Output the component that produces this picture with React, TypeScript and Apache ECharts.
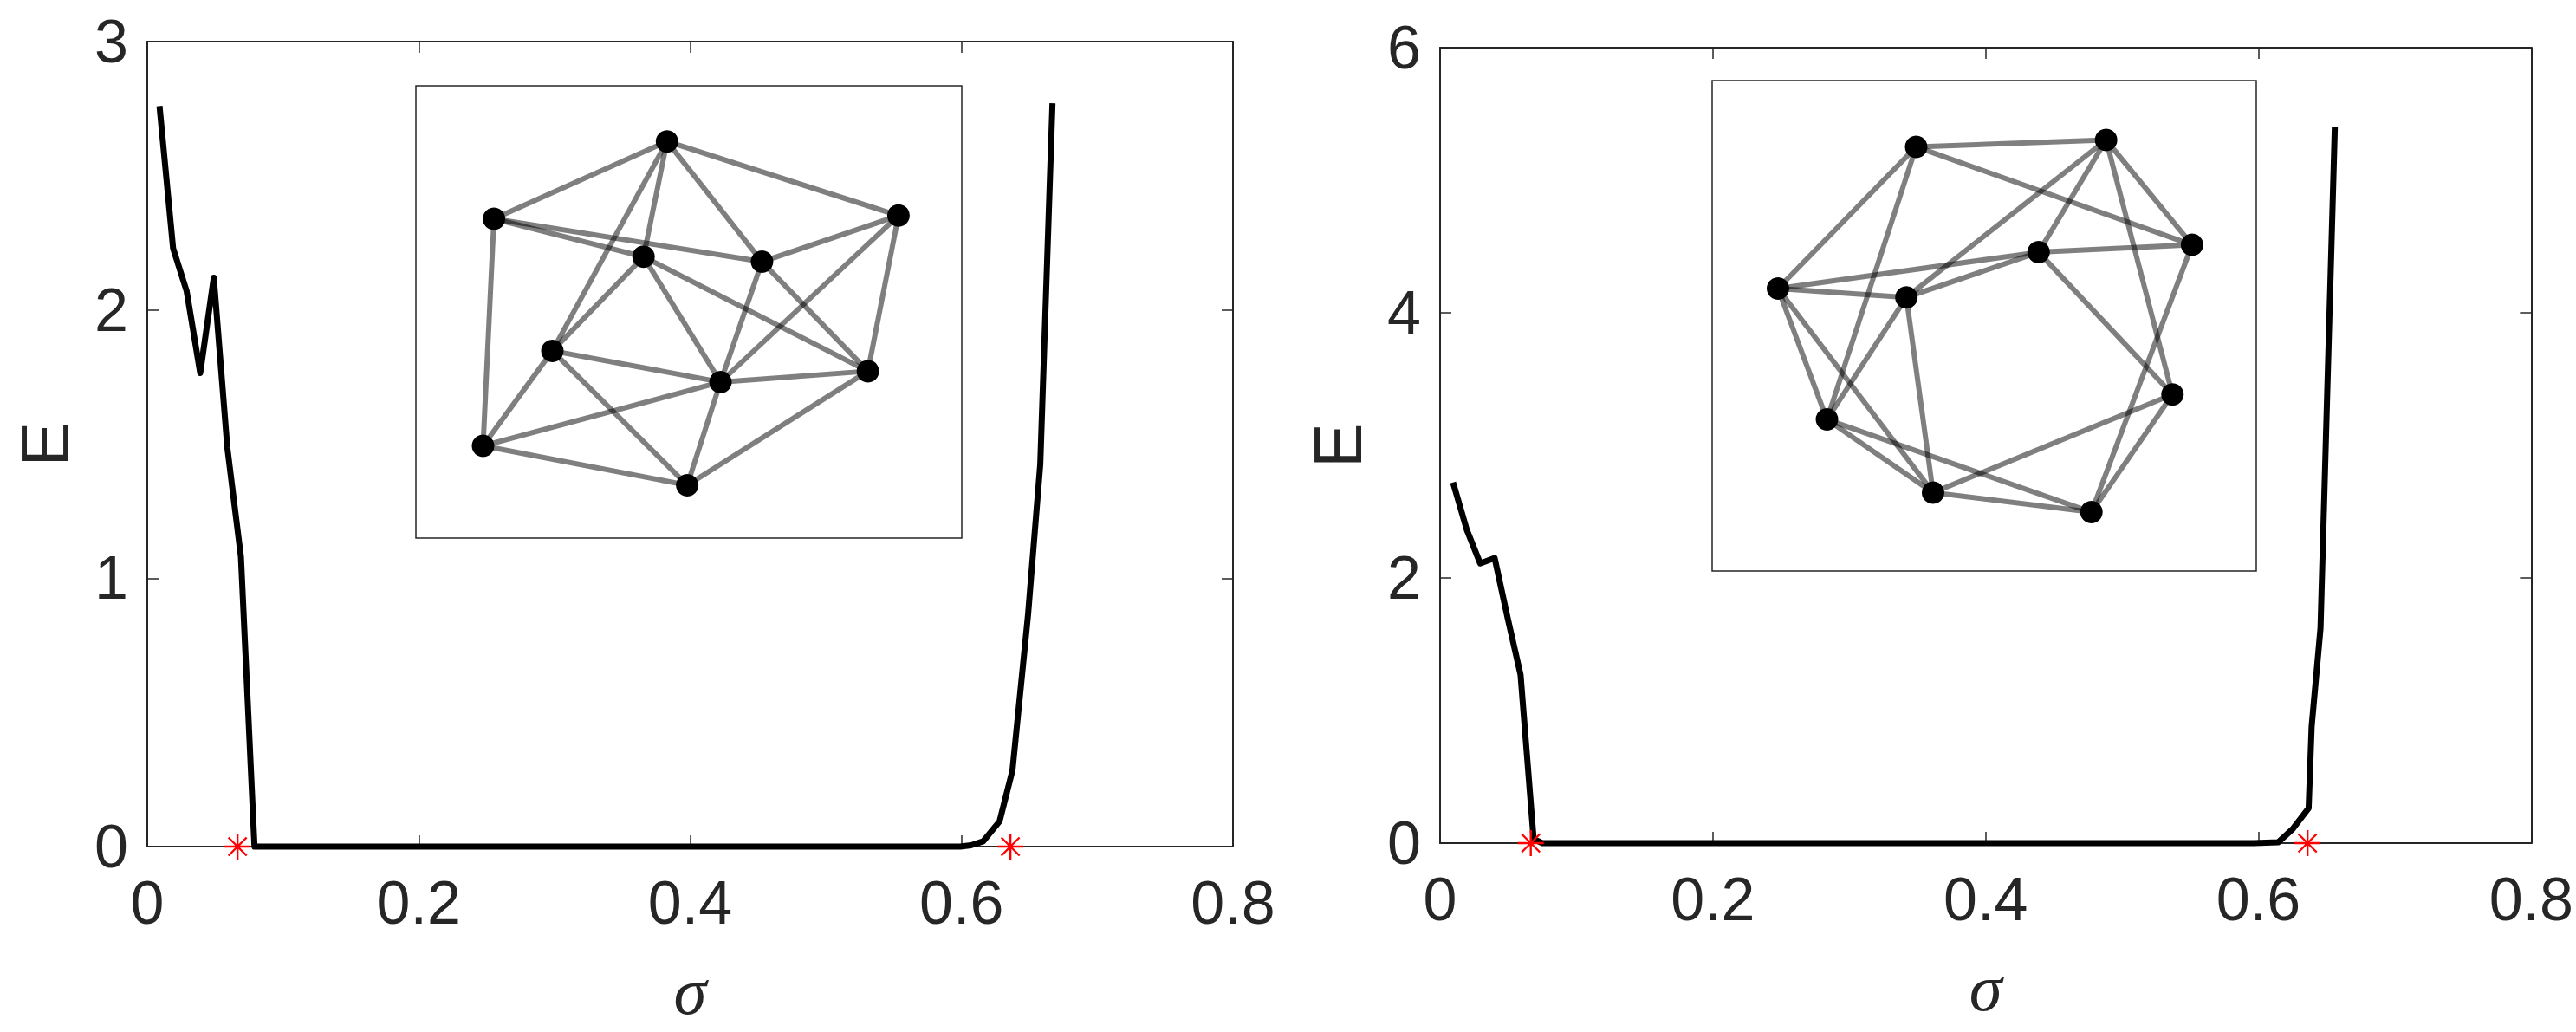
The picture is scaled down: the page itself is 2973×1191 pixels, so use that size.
import React, { useEffect, useRef } from "react";
import * as echarts from "echarts";

// ---------- data ----------
const xTicks = [0, 0.2, 0.4, 0.6, 0.8];
const yTicksLeft = [0, 1, 2, 3];
const yTicksRight = [0, 2, 4, 6];

// left panel curve E(sigma)
const sigmaLeft = [0.009, 0.019, 0.029, 0.039, 0.049, 0.059, 0.069, 0.079, 0.599, 0.607, 0.616, 0.628, 0.6375, 0.649, 0.658, 0.667];
const energyLeft = [2.76, 2.23, 2.07, 1.765, 2.12, 1.486, 1.08, 0, 0, 0.005, 0.02, 0.094, 0.284, 0.864, 1.425, 2.77];

// right panel curve E(sigma)
const sigmaRight = [0.0095, 0.0197, 0.0294, 0.04, 0.0495, 0.059, 0.0686, 0.075, 0.5966, 0.6146, 0.625, 0.6368, 0.639, 0.6455, 0.656];
const energyRight = [2.72, 2.36, 2.11, 2.15, 1.7, 1.27, 0.03, 0, 0, 0.007, 0.105, 0.264, 0.88, 1.62, 5.4];

// thresholds (red asterisks)
const thresholdSigma = [0.0665, 0.636];
const thresholdEnergy = [0, 0];

// inset networks: node positions (fraction of inset box) and edges
const nodesLeftX = [0.46, 0.143, 0.884, 0.417, 0.634, 0.25, 0.558, 0.828, 0.123, 0.497];
const nodesLeftY = [0.877, 0.706, 0.713, 0.622, 0.611, 0.414, 0.345, 0.369, 0.204, 0.117];
const edgesLeft = [
  [0, 1], [0, 2], [0, 3], [0, 4], [0, 5], [1, 3], [1, 4], [1, 8], [2, 4], [2, 6], [2, 7], [3, 5],
  [3, 6], [3, 7], [4, 6], [4, 7], [5, 6], [5, 8], [5, 9], [6, 7], [6, 8], [6, 9], [7, 9], [8, 9],
];

const nodesRightX = [0.375, 0.724, 0.882, 0.6, 0.121, 0.357, 0.846, 0.211, 0.406, 0.697];
const nodesRightY = [0.865, 0.879, 0.665, 0.65, 0.576, 0.558, 0.36, 0.309, 0.16, 0.12];
const edgesRight = [
  [0, 1], [0, 2], [0, 4], [0, 7], [1, 5], [1, 3], [1, 2], [1, 6], [3, 2], [3, 4], [3, 5], [3, 6],
  [4, 5], [4, 7], [4, 8], [5, 7], [5, 8], [2, 9], [6, 8], [6, 9], [7, 8], [7, 9], [8, 9],
];

// ---------- styles ----------
const AX = "#262626";
const SANS = "'Liberation Sans', Arial, Helvetica, sans-serif";
const SERIF = "'Liberation Serif', 'Times New Roman', serif";
const TICK_FONT = 70;
const LABEL_FONT = 77;

const ASTERISK = "path://M0,-10L0,10M-10,0L10,0M-7,-7L7,7M-7,7L7,-7";

function mainX(gridIndex: number, top: boolean) {
  return {
    type: "value",
    gridIndex,
    position: top ? "top" : "bottom",
    min: 0,
    max: 0.8,
    interval: 0.2,
    axisLine: { show: true, onZero: false, lineStyle: { color: AX, width: 2 } },
    axisTick: { show: true, inside: true, length: 13, lineStyle: { color: AX, width: 1.5 } },
    splitLine: { show: false },
    axisLabel: top
      ? { show: false }
      : { show: true, color: AX, fontSize: TICK_FONT, fontFamily: SANS, margin: 30,
          formatter: (v: number) => (xTicks.includes(Math.round(v * 10) / 10) ? String(Math.round(v * 10) / 10) : "") },
    name: top ? "" : "σ",
    nameLocation: "middle",
    nameGap: 128,
    nameTextStyle: { fontFamily: SERIF, fontStyle: "italic", fontSize: LABEL_FONT, color: AX },
  };
}

function mainY(gridIndex: number, right: boolean, max: number, interval: number, ticks: number[]) {
  return {
    type: "value",
    gridIndex,
    position: right ? "right" : "left",
    min: 0,
    max,
    interval,
    axisLine: { show: true, onZero: false, lineStyle: { color: AX, width: 2 } },
    axisTick: { show: true, inside: true, length: 13, lineStyle: { color: AX, width: 1.5 } },
    splitLine: { show: false },
    axisLabel: right
      ? { show: false }
      : { show: true, color: AX, fontSize: TICK_FONT, fontFamily: SANS, margin: 22,
          formatter: (v: number) => (ticks.includes(v) ? String(v) : "") },
    name: right ? "" : "E",
    nameLocation: "middle",
    nameGap: 80,
    nameTextStyle: { fontFamily: SANS, fontSize: LABEL_FONT, color: AX },
  };
}

function insetAxis(gridIndex: number) {
  return { type: "value", gridIndex, min: 0, max: 1, show: false };
}

function curveSeries(xi: number, yi: number, xs: number[], ys: number[]) {
  return {
    type: "line",
    xAxisIndex: xi,
    yAxisIndex: yi,
    data: xs.map((x, i) => [x, ys[i]]),
    showSymbol: false,
    symbol: "none",
    clip: false,
    lineStyle: { color: "#000", width: 7, join: "round" },
    z: 3,
  };
}

function starSeries(xi: number, yi: number) {
  return {
    type: "scatter",
    xAxisIndex: xi,
    yAxisIndex: yi,
    data: thresholdSigma.map((x, i) => [x, thresholdEnergy[i]]),
    symbol: ASTERISK,
    symbolSize: 30,
    clip: false,
    itemStyle: { color: "none", borderColor: "#ff0000", borderWidth: 2.4, opacity: 1 },
    z: 5,
  };
}

function graphSeries(xi: number, xs: number[], ys: number[], edges: number[][]) {
  return {
    type: "graph",
    coordinateSystem: "cartesian2d",
    xAxisIndex: xi,
    yAxisIndex: xi,
    layout: "none",
    data: xs.map((x, i) => ({ value: [x, ys[i]] })),
    links: edges.map(([s, t]) => ({ source: s, target: t })),
    symbol: "circle",
    symbolSize: 26,
    itemStyle: { color: "#000" },
    lineStyle: { color: "#000", opacity: 0.5, width: 6 },
    label: { show: false },
    silent: true,
    z: 4,
  };
}

export default function App() {
  const ref = useRef<HTMLDivElement>(null);
  useEffect(() => {
    if (!ref.current) return;
    const chart = echarts.init(ref.current, undefined, { renderer: "svg" });
    chart.setOption({
      animation: false,
      backgroundColor: "#fff",
      grid: [
        { left: 170, top: 48, width: 1253, height: 929, containLabel: false },
        { left: 1662, top: 55, width: 1260, height: 918, containLabel: false },
        { left: 480, top: 99, width: 630, height: 522, show: true, borderColor: AX, borderWidth: 1.5, backgroundColor: "#fff", z: 1 },
        { left: 1976, top: 93, width: 628, height: 566, show: true, borderColor: AX, borderWidth: 1.5, backgroundColor: "#fff", z: 1 },
      ],
      xAxis: [mainX(0, false), mainX(0, true), mainX(1, false), mainX(1, true), insetAxis(2), insetAxis(3)],
      yAxis: [
        mainY(0, false, 3, 1, yTicksLeft),
        mainY(0, true, 3, 1, yTicksLeft),
        mainY(1, false, 6, 2, yTicksRight),
        mainY(1, true, 6, 2, yTicksRight),
        insetAxis(2),
        insetAxis(3),
      ],
      series: [
        curveSeries(0, 0, sigmaLeft, energyLeft),
        starSeries(0, 0),
        curveSeries(2, 2, sigmaRight, energyRight),
        starSeries(2, 2),
        graphSeries(4, nodesLeftX, nodesLeftY, edgesLeft),
        graphSeries(5, nodesRightX, nodesRightY, edgesRight),
      ],
    });
    return () => chart.dispose();
  }, []);
  return (
    <div
      ref={ref}
      style={{ position: "absolute", left: 0, top: 0, width: 2973, height: 1191, background: "#fff" }}
    />
  );
}
